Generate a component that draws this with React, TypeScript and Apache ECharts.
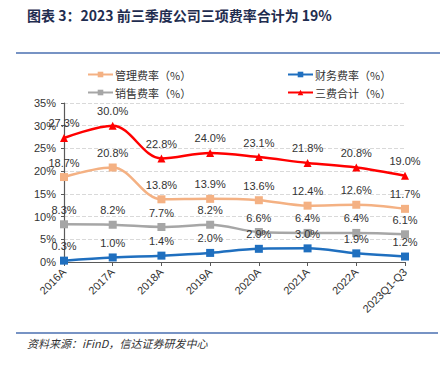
import React, { useEffect, useRef } from "react";
import * as echarts from "echarts";

const categories = ["2016A", "2017A", "2018A", "2019A", "2020A", "2021A", "2022A", "2023Q1-Q3"];
const adminRate = [18.7, 20.8, 13.8, 13.9, 13.6, 12.4, 12.6, 11.7];
const financeRate = [0.3, 1.0, 1.4, 2.0, 2.9, 3.0, 1.9, 1.2];
const salesRate = [8.3, 8.2, 7.7, 8.2, 6.6, 6.4, 6.4, 6.1];
const totalRate = [27.3, 30.0, 22.8, 24.0, 23.1, 21.8, 20.8, 19.0];
const yTicks = [0, 5, 10, 15, 20, 25, 30, 35];

const FONT = "'Liberation Sans', Arial, sans-serif";

export default function App() {
  const ref = useRef<HTMLDivElement>(null);
  useEffect(() => {
    if (!ref.current) return;
    const chart = echarts.init(ref.current, null, { renderer: "svg" });
    const mkSeries = (name: string, data: number[], color: string, symbol: string, size: number) => ({
      name,
      type: "line",
      data,
      smooth: 0.35,
      symbol,
      symbolSize: size,
      lineStyle: { color, width: 2.5 },
      itemStyle: { color },
      label: {
        show: true,
        position: "top",
        distance: 5,
        formatter: (p: any) => p.value.toFixed(1) + "%",
        color: "#333",
        fontSize: 11,
        fontFamily: FONT,
      },
      z: 3,
    });
    const legendBase = {
      itemWidth: 25,
      itemHeight: 7,
      itemGap: 4,
      textStyle: { fontSize: 11, color: "#333", fontFamily: "'Noto Sans CJK SC', sans-serif", padding: [0, 0, 0, -3] },
      selectedMode: false,
    };
    chart.setOption({
      animation: false,
      backgroundColor: "#fff",
      textStyle: { fontFamily: FONT },
      graphic: [
        {
          type: "text",
          left: 27,
          top: 8,
          style: {
            text: "图表 3：2023 前三季度公司三项费率合计为 19%",
            fontSize: 14,
            fontWeight: "bold",
            fill: "#1f2d50",
            fontFamily: "'Noto Sans CJK SC', sans-serif",
          },
        },
        { type: "line", shape: { x1: 16, y1: 53, x2: 440, y2: 53 }, style: { stroke: "#4a6fb0", lineWidth: 1.5 } },
        { type: "line", shape: { x1: 16, y1: 333, x2: 438, y2: 333 }, style: { stroke: "#4a6fb0", lineWidth: 1.5 } },
        {
          type: "text",
          left: 27,
          top: 337,
          style: {
            text: "资料来源：iFinD，信达证券研发中心",
            fontSize: 11,
            fontStyle: "italic",
            fill: "#333",
            fontFamily: "'Noto Sans CJK SC', sans-serif",
          },
        },
      ],
      legend: [
        { ...legendBase, left: 82, top: 64, data: ["管理费率（%）"] },
        { ...legendBase, left: 282, top: 64, data: ["财务费率（%）"] },
        { ...legendBase, left: 82, top: 82, data: ["销售费率（%）"] },
        { ...legendBase, left: 282, top: 82, data: ["三费合计（%）"] },
      ],
      grid: { left: 64, right: 35, top: 103, bottom: 105 },
      xAxis: {
        type: "category",
        data: categories,
        boundaryGap: false,
        axisLine: { lineStyle: { color: "#595959", width: 1.2 } },
        axisTick: { show: true, length: 4, lineStyle: { color: "#595959" } },
        axisLabel: { rotate: 45, fontSize: 11, color: "#333", fontFamily: FONT, margin: 8 },
      },
      yAxis: {
        type: "value",
        min: yTicks[0],
        max: yTicks[yTicks.length - 1],
        interval: 5,
        axisLine: { show: true, lineStyle: { color: "#595959", width: 1.2 } },
        axisTick: { show: true, length: 3, lineStyle: { color: "#595959" } },
        axisLabel: { formatter: "{value}%", fontSize: 11, color: "#333", fontFamily: FONT, margin: 8 },
        splitLine: { lineStyle: { color: "#d9d9d9", type: "dashed" } },
      },
      series: [
        mkSeries("管理费率（%）", adminRate, "#f4b183", "rect", 8),
        mkSeries("财务费率（%）", financeRate, "#1f6fbf", "rect", 8),
        mkSeries("销售费率（%）", salesRate, "#a6a6a6", "rect", 8),
        mkSeries("三费合计（%）", totalRate, "#ff0000", "triangle", 8),
      ],
    });
    return () => chart.dispose();
  }, []);
  return <div ref={ref} style={{ position: "fixed", left: 0, top: 0, width: 440, height: 367 }} />;
}
